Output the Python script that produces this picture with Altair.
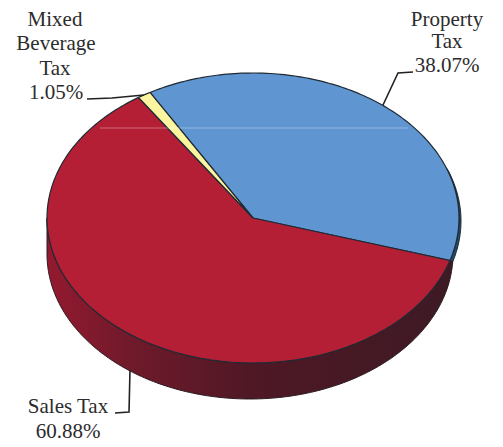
import numpy as np
import pandas as pd
import altair as alt

categories = ["Property Tax", "Sales Tax", "Mixed Beverage Tax"]
shares = [38.07, 60.88, 1.05]
slice_colors = ["#5f95d1", "#b51f36", "#fbf5a0"]
label_text = ["Mixed", "Beverage", "Tax", "1.05%", "Property", "Tax", "38.07%", "Sales Tax", "60.88%"]
label_x = [55, 56, 55, 56, 447, 447, 447, 68, 68]
label_y = [26, 50, 75, 99, 26, 48, 72, 413, 438]
leader_group = [0, 0, 0, 1, 1, 1, 2, 2, 2]
leader_x = [87, 112, 144, 413, 398, 383, 115, 129, 130]
leader_y = [99, 98, 95, 72, 73, 105, 413, 412, 370]

CX, CY, RX, RY = 253.0, 218.0, 206.0, 145.0
START = -120.0

X = alt.X("x:Q", scale=alt.Scale(domain=[8, 495], zero=False, nice=False), axis=None)
Y = alt.Y("y:Q", scale=alt.Scale(domain=[439, 8], zero=False, nice=False), axis=None)
W, H = 487, 431


def arc(a0, a1, cx=CX, cy=CY, rx=RX, ry=RY):
    t = np.radians(np.linspace(a0, a1, max(3, int(abs(a1 - a0)) + 2)))
    return cx + rx * np.cos(t), cy + ry * np.sin(t)


def poly(xs, ys):
    return pd.DataFrame({"x": xs, "y": ys, "i": np.arange(len(xs))})


def shape(df, **kw):
    return alt.Chart(df).mark_line(interpolate="linear", **kw).encode(x=X, y=Y, order="i:Q")


edges = START + np.cumsum([0] + shares) * 3.6
blue_end = edges[1]
layers = []

# side wall: thin blue crescent, then the red band
xa, ya = arc(-20, blue_end)
xb, yb = arc(blue_end, -20, cx=CX + 3, cy=CY + 3, rx=205)
layers.append(shape(poly(np.r_[xa, xb, xa[0]], np.r_[ya, yb, ya[0]]),
                    fill="#1f4c6c", stroke="#1c2a35", strokeWidth=1.0))

xa, ya = arc(blue_end, 180)
xb, yb = arc(180, 3, cx=250, cy=CY + 36, rx=203)
side_fill = alt.Gradient(
    gradient="linear", x1=0, x2=1, y1=0, y2=0,
    stops=[
        alt.GradientStop(offset=0, color="#94192f"),
        alt.GradientStop(offset=0.2, color="#701a2b"),
        alt.GradientStop(offset=0.5, color="#4f1825"),
        alt.GradientStop(offset=1, color="#3d1a24"),
    ],
)
layers.append(shape(poly(np.r_[xa, xb, xa[0]], np.r_[ya, yb, ya[0]]),
                    fill=side_fill, stroke="#2a1a20", strokeWidth=1.0))

# top face slices
for k, color in enumerate(slice_colors):
    xa, ya = arc(edges[k], edges[k + 1])
    xs = np.r_[CX, xa, CX]
    ys = np.r_[CY, ya, CY]
    layers.append(shape(poly(xs, ys), fill=color, stroke="#1f2a33", strokeWidth=1.2))

# faint horizontal scan band across the face
band = pd.DataFrame({"x": [100], "x2": [408], "y": [128]})
layers.append(alt.Chart(band).mark_rule(color="#ffffff", opacity=0.22, strokeWidth=1.5)
              .encode(x=X, x2="x2:Q", y=Y))

# leader lines
leaders = pd.DataFrame({"x": leader_x, "y": leader_y, "g": leader_group, "i": range(len(leader_x))})
layers.append(alt.Chart(leaders).mark_line(color="#222222", strokeWidth=1.6)
              .encode(x=X, y=Y, detail="g:N", order="i:Q"))

# labels
labels = pd.DataFrame({"x": label_x, "y": label_y, "t": label_text})
layers.append(alt.Chart(labels).mark_text(font="Liberation Serif", fontSize=21, color="#2c2c2c",
                                          align="center", baseline="alphabetic")
              .encode(x=X, y=Y, text="t:N"))

chart = (
    alt.layer(*layers)
    .properties(width=W, height=H, padding=0, background="#ffffff")
    .configure_view(stroke=None)
)
chart.save("out.html", embed_options={"renderer": "svg", "actions": False})
